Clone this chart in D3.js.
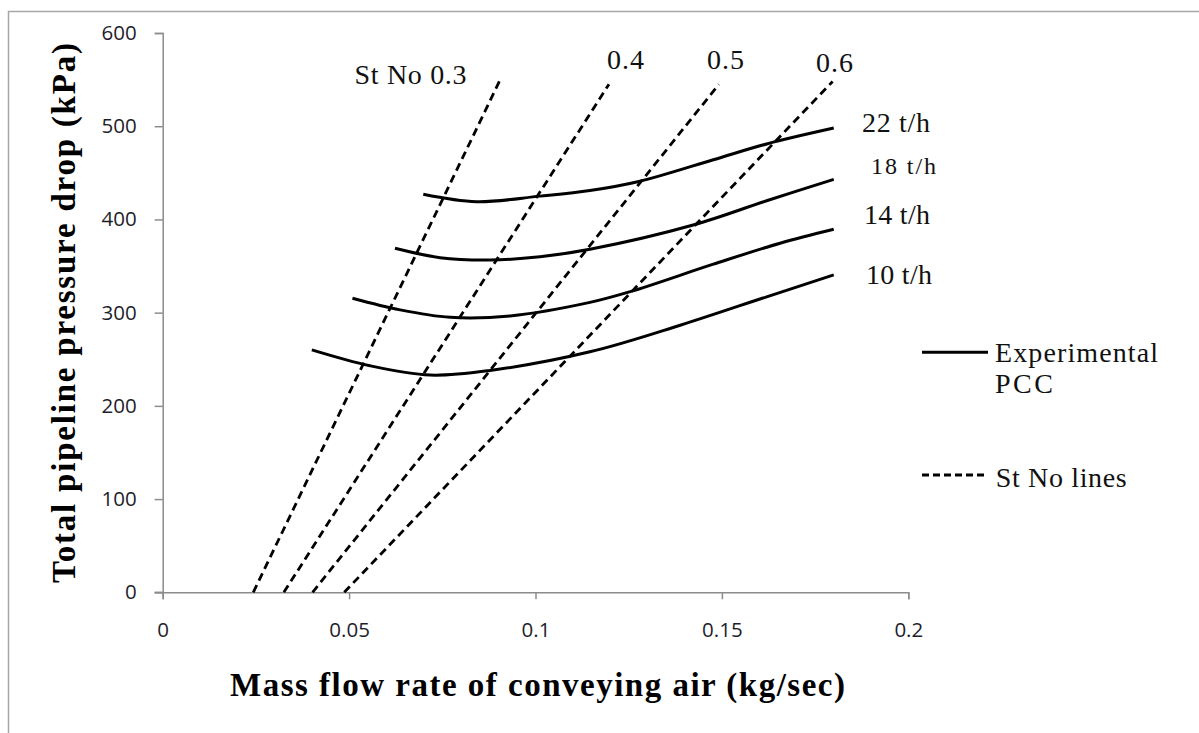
<!DOCTYPE html>
<html>
<head>
<meta charset="utf-8">
<script src="https://cdn.jsdelivr.net/npm/d3@7"></script>
<style>
  html, body { margin: 0; padding: 0; background: #fff; }
  svg { display: block; }
</style>
</head>
<body>
<svg id="chart" width="1199" height="733"></svg>
<script>
// ---------------- data ----------------
const xTicks = [0, 0.05, 0.1, 0.15, 0.2];
const xTickLabels = ["0", "0.05", "0.1", "0.15", "0.2"];
const yTicks = [0, 100, 200, 300, 400, 500, 600];
const yTickLabels = ["0", "100", "200", "300", "400", "500", "600"];

// Stokes-number lines (dashed): start on 0 kPa, end at top
const stLabels = ["St No 0.3", "0.4", "0.5", "0.6"];
const stX0 = [0.0243, 0.0325, 0.0402, 0.0487];
const stX1 = [0.0903, 0.1197, 0.1492, 0.1797];
const stY1 = [548, 545, 545, 548];

// Experimental PCC curves (solid)
const flowLabels = ["22 t/h", "18 t/h", "14 t/h", "10 t/h"];
const flow22 = [[0.0699,427],[0.0842,419],[0.1012,425],[0.1146,431],[0.128,441],[0.1477,464],[0.162,481],[0.18,498]];
const flow18 = [[0.0623,369],[0.0744,359],[0.0878,356.5],[0.1012,360],[0.1146,368],[0.1423,394],[0.162,420],[0.18,443]];
const flow14 = [[0.0509,315.5],[0.0637,303],[0.0771,295],[0.0932,296.5],[0.1146,311],[0.1254,322.5],[0.1477,352],[0.1656,374.5],[0.18,389.5]];
const flow10 = [[0.04,260],[0.0556,243],[0.0717,233],[0.0878,238],[0.1146,258],[0.1388,286.5],[0.162,317],[0.18,340.5]];
const flowSeries = [flow22, flow18, flow14, flow10];

const legendLabels = [["Experimental", "PCC"], ["St No lines"]];
const xTitle = "Mass flow rate of conveying air  (kg/sec)";
const yTitle = "Total  pipeline  pressure  drop   (kPa)";

// ---------------- layout ----------------
const svg = d3.select("#chart");
const plot = { left: 162.7, right: 908.3, top: 33, bottom: 592.3 };
const x = d3.scaleLinear().domain([0, 0.2]).range([plot.left, plot.right]);
const y = d3.scaleLinear().domain([0, 600]).range([plot.bottom, plot.top]);

const serif = "'Liberation Serif', 'Times New Roman', serif";
const sans = "'Open Sans', 'Noto Sans', sans-serif";

svg.append("rect").attr("width", 1199).attr("height", 733).attr("fill", "#fff");
// outer chart frame (extends past right / bottom edges)
svg.append("rect").attr("x", 8.5).attr("y", 11.5).attr("width", 1250).attr("height", 800)
  .attr("fill", "none").attr("stroke", "#a6a6a6").attr("stroke-width", 1.5);

// axes
const axisColor = "#8c8c8c";
const gx = svg.append("g").attr("transform", `translate(0,${plot.bottom})`)
  .call(d3.axisBottom(x).tickValues(xTicks).tickFormat((d, i) => xTickLabels[i]).tickSizeInner(7).tickSizeOuter(7).tickPadding(23));
const gy = svg.append("g").attr("transform", `translate(${plot.left},0)`)
  .call(d3.axisLeft(y).tickValues(yTicks).tickFormat((d, i) => yTickLabels[i]).tickSizeInner(8).tickSizeOuter(8).tickPadding(18));
[gx, gy].forEach(g => {
  g.select(".domain").attr("stroke", axisColor).attr("stroke-width", 1.5);
  g.selectAll(".tick line").attr("stroke", axisColor).attr("stroke-width", 1.5);
  g.selectAll(".tick text").attr("fill", "#1e1e2a").style("font-family", sans).style("font-size", "20.5px");
});
// extend x-axis line left to the y tick length
svg.append("line").attr("x1", plot.left - 8).attr("x2", plot.left).attr("y1", plot.bottom).attr("y2", plot.bottom)
  .attr("stroke", axisColor).attr("stroke-width", 1.5);

// Stokes number dashed lines
const dashG = svg.append("g");
stX0.forEach((x0, i) => {
  dashG.append("line")
    .attr("x1", x(x0)).attr("y1", y(0))
    .attr("x2", x(stX1[i])).attr("y2", y(stY1[i]))
    .attr("stroke", "#000").attr("stroke-width", 2.8).attr("stroke-dasharray", "8,5");
});

// Experimental curves
const line = d3.line().x(d => x(d[0])).y(d => y(d[1])).curve(d3.curveCatmullRom.alpha(0.5));
svg.append("g").selectAll("path").data(flowSeries).join("path")
  .attr("d", line).attr("fill", "none").attr("stroke", "#000").attr("stroke-width", 3);

// annotations: Stokes labels
const stLabelPos = [[354.5, 84, 112], [607, 69, 37], [707, 69, 37], [816, 72, 37]];
stLabels.forEach((t, i) => {
  svg.append("text").attr("x", stLabelPos[i][0]).attr("y", stLabelPos[i][1])
    .attr("textLength", stLabelPos[i][2]).attr("lengthAdjust", "spacing")
    .style("font-family", serif).style("font-size", "28px").attr("fill", "#111").text(t);
});
// annotations: flow labels
const flowLabelPos = [[862, 132, 28, 68], [871, 174, 24, 65], [864, 224, 28, 66], [866, 284, 28, 66]];
flowLabels.forEach((t, i) => {
  const p = flowLabelPos[i];
  svg.append("text").attr("x", p[0]).attr("y", p[1])
    .attr("textLength", p[3]).attr("lengthAdjust", "spacing")
    .style("font-family", serif).style("font-size", p[2] + "px").attr("fill", "#111").text(t);
});

// legend
const lg = svg.append("g");
lg.append("line").attr("x1", 922).attr("x2", 988).attr("y1", 352.3).attr("y2", 352.3)
  .attr("stroke", "#000").attr("stroke-width", 3);
lg.append("text").attr("x", 995).attr("y", 361.7).attr("textLength", 163).attr("lengthAdjust", "spacing")
  .style("font-family", serif).style("font-size", "28px").attr("fill", "#111").text(legendLabels[0][0]);
lg.append("text").attr("x", 995).attr("y", 393.3).attr("textLength", 58).attr("lengthAdjust", "spacing")
  .style("font-family", serif).style("font-size", "28px").attr("fill", "#111").text(legendLabels[0][1]);
lg.append("line").attr("x1", 922).attr("x2", 988).attr("y1", 475).attr("y2", 475)
  .attr("stroke", "#000").attr("stroke-width", 2.8).attr("stroke-dasharray", "7,4");
lg.append("text").attr("x", 995.7).attr("y", 486.7).attr("textLength", 131).attr("lengthAdjust", "spacing")
  .style("font-family", serif).style("font-size", "28px").attr("fill", "#111").text(legendLabels[1][0]);

// axis titles
svg.append("text").attr("x", 230).attr("y", 696).attr("textLength", 615).attr("lengthAdjust", "spacing")
  .style("font-family", serif).style("font-weight", "bold").style("font-size", "33px").attr("fill", "#000").text(xTitle);
svg.append("text").attr("transform", "translate(75,583) rotate(-90)").attr("x", 0).attr("y", 0)
  .attr("textLength", 540).attr("lengthAdjust", "spacing")
  .style("font-family", serif).style("font-weight", "bold").style("font-size", "33px").attr("fill", "#000").text(yTitle);
</script>
</body>
</html>
